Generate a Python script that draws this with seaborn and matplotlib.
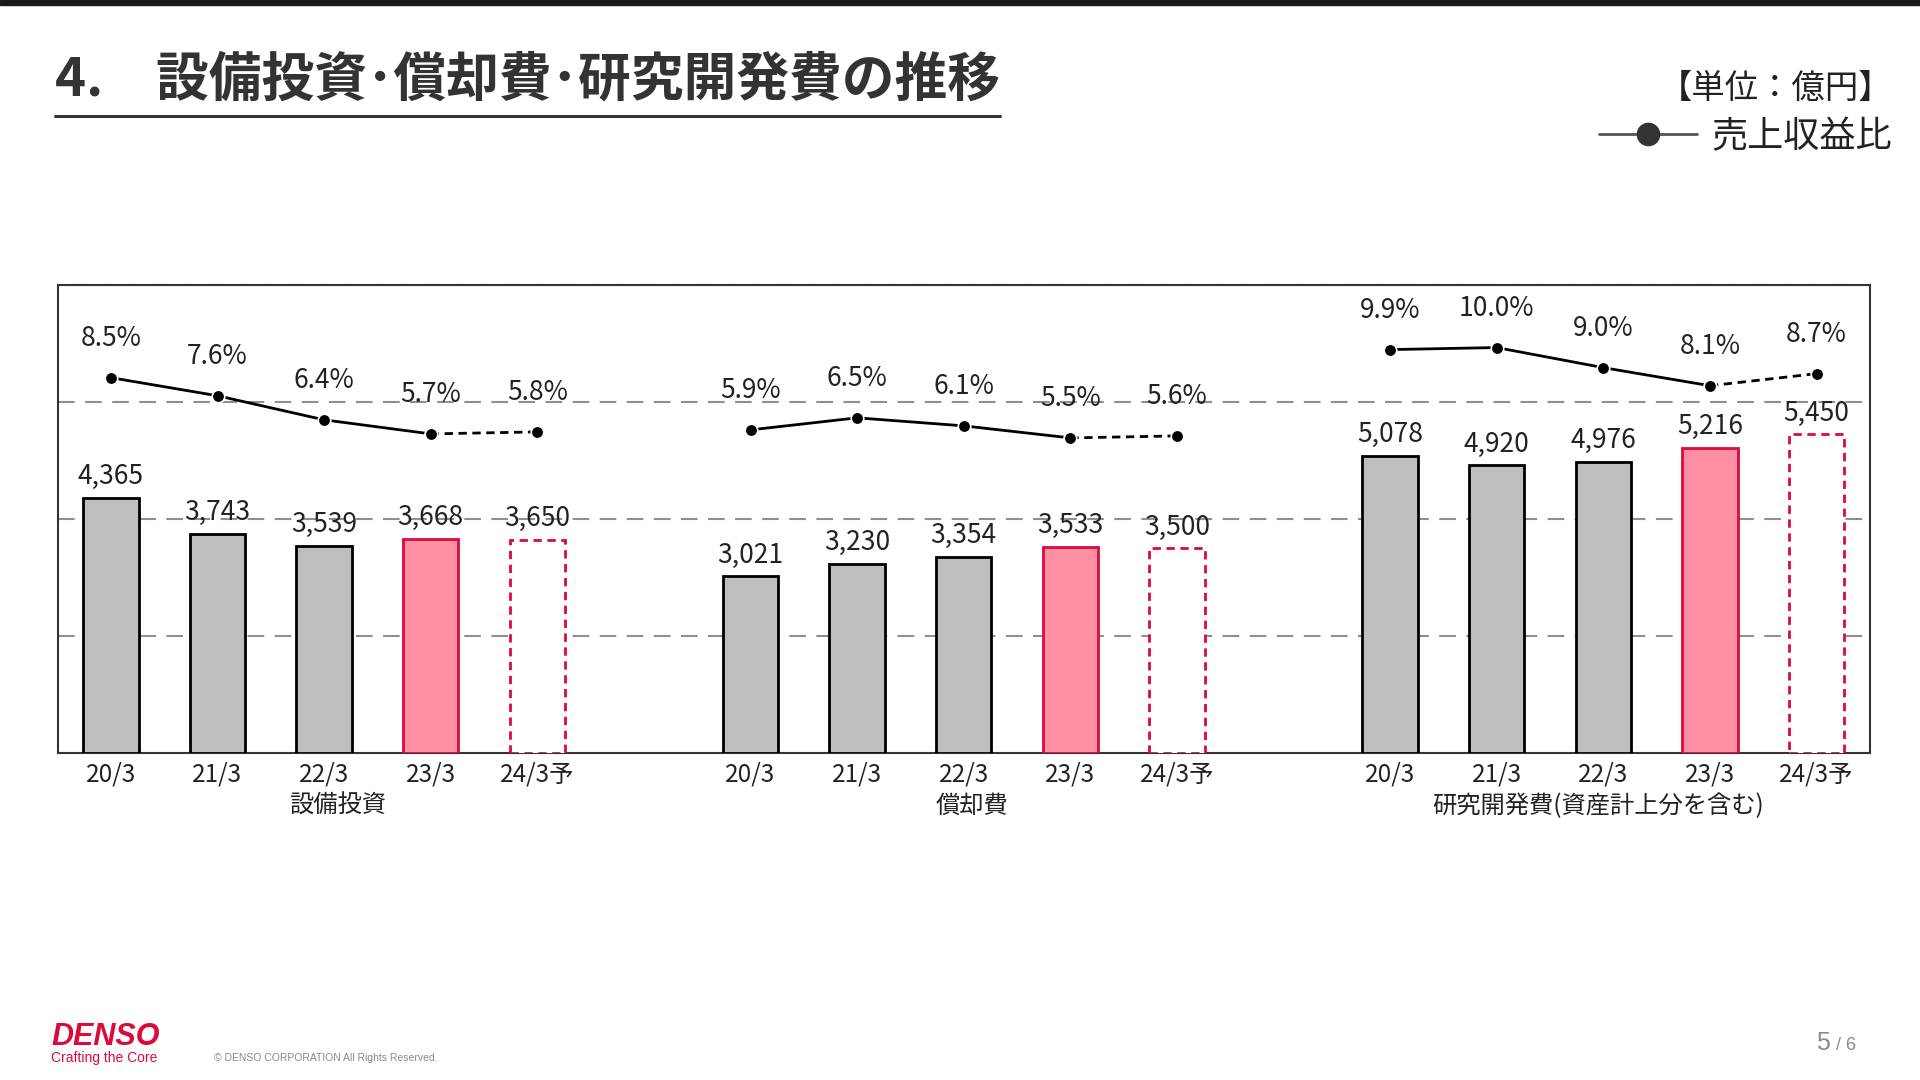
import numpy as np
import pandas as pd
import seaborn as sns
import matplotlib.pyplot as plt
from matplotlib.lines import Line2D
from matplotlib.patches import Rectangle

# Data (units: 億円, ratio: % of revenue)
groups = ['設備投資', '償却費', '研究開発費(資産計上分を含む)']
years = ['20/3', '21/3', '22/3', '23/3', '24/3予']
capex = [4365, 3743, 3539, 3668, 3650]
depreciation = [3021, 3230, 3354, 3533, 3500]
rnd = [5078, 4920, 4976, 5216, 5450]
capex_ratio = [8.5, 7.6, 6.4, 5.7, 5.8]
dep_ratio = [5.9, 6.5, 6.1, 5.5, 5.6]
rnd_ratio = [9.9, 10.0, 9.0, 8.1, 8.7]

amounts = [capex, depreciation, rnd]
ratios = [capex_ratio, dep_ratio, rnd_ratio]

rows = []
for g, (vals, rats) in enumerate(zip(amounts, ratios)):
    for i, yr in enumerate(years):
        # one empty slot between groups
        rows.append({'slot': g * 6 + i, 'group': groups[g], 'year': yr,
                     'value': vals[i], 'ratio': rats[i], 'idx': i})
df = pd.DataFrame(rows)

# Style
sns.set_theme(style='white')
plt.rcParams['font.family'] = ['Noto Sans CJK JP', 'DejaVu Sans']
txt = '#222222'
gray = '#BEBDBF'
pink = '#FF8FA3'
crimson = '#DC0A3C'

fig = plt.figure(figsize=(19.2, 10.8), dpi=100)
ax = fig.add_axes([0.0300, 0.3027, 0.9439, 0.4331])

sns.barplot(data=df, x='slot', y='value', native_scale=True, width=0.52,
            color=gray, edgecolor='black', linewidth=2, errorbar=None,
            saturation=1, ax=ax, zorder=3)

# restyle actual / forecast bars of the latest years
for p, i in zip(ax.patches, df['idx']):
    if i == 3:
        p.set_facecolor(pink)
        p.set_edgecolor(crimson)
    elif i == 4:
        p.set_facecolor('white')
        p.set_edgecolor(crimson)
        p.set_linestyle((0, (3, 2)))

for _, r in df.iterrows():
    ax.annotate(f"{r['value']:,}", (r['slot'], r['value']), xytext=(0, 10),
                textcoords='offset points', ha='center', va='baseline',
                fontsize=19, color=txt, zorder=6)

ax.set_ylim(0, 8000)
ax.set_yticks([2000, 4000, 6000, 8000])
ax.yaxis.grid(True, linestyle=(0, (8, 5)), color='#8f8f8f', linewidth=1.5)
ax.set_axisbelow(True)
ax.tick_params(axis='y', left=False, right=False, labelleft=False, length=0)
ax.set_xticks(df['slot'])
ax.set_xticklabels(df['year'], fontsize=17.5, color=txt)
ax.tick_params(axis='x', length=0, pad=6)
ax.set_xlabel('')
ax.set_ylabel('')
for s in ax.spines.values():
    s.set_color('#333333')
    s.set_linewidth(1.5)

# group captions, nudged like the original slide
nudge = [10, 6, -4]
for g, name in enumerate(groups):
    ax.annotate(name, (g * 6 + 2, 0), xycoords=('data', 'axes fraction'),
                xytext=(nudge[g], -38), textcoords='offset points',
                ha='center', va='center', fontsize=17.5, color=txt)

# Ratio line on secondary axis
ax2 = ax.twinx()
for g, name in enumerate(groups):
    sub = df[df['group'] == name]
    sns.lineplot(data=sub.iloc[:4], x='slot', y='ratio', ax=ax2, color='black',
                 linewidth=2, marker='o', markersize=9, markeredgecolor='white',
                 markeredgewidth=1.2, zorder=5)
    sns.lineplot(data=sub.iloc[3:], x='slot', y='ratio', ax=ax2, color='black',
                 linewidth=2, linestyle=(0, (3, 2)), marker='o', markersize=9,
                 markeredgecolor='white', markeredgewidth=1.2, zorder=5)
    for _, r in sub.iterrows():
        ax2.annotate(f"{r['ratio']:.1f}%", (r['slot'], r['ratio']), xytext=(0, 23),
                     textcoords='offset points', ha='center', va='baseline',
                     fontsize=19, color=txt)

ax2.set_ylim(-10.2, 13.1)
ax2.set_yticks([])
ax2.tick_params(length=0)
ax2.set_ylabel('')
ax2.set_xlabel('')
for s in ax2.spines.values():
    s.set_visible(False)
ax.set_xlim(-0.5, 16.5)

# Header
fig.add_artist(Rectangle((0, 1 - 5 / 1080), 1, 5 / 1080, transform=fig.transFigure,
                         color='#1a1a1a'))
title = fig.text(55 / 1920, 1 - 80 / 1080, '4.　設備投資･償却費･研究開発費の推移',
                 fontsize=38, weight='bold', color='#333333', va='center')
fig.canvas.draw()
bb = title.get_window_extent().transformed(fig.transFigure.inverted())
fig.add_artist(Line2D([bb.x0, bb.x1], [1 - 116 / 1080] * 2, color='#333333',
                      linewidth=2.2, transform=fig.transFigure))

fig.text(1892 / 1920, 1 - 88 / 1080, '【単位：億円】', ha='right', va='center',
         fontsize=24, color=txt)
handle = Line2D([], [], color='#555555', linewidth=2, marker='o', markersize=16,
                markerfacecolor='#333333', markeredgecolor='#333333')
fig.legend(handles=[handle], labels=['売上収益比'], loc='center right',
           bbox_to_anchor=(1892 / 1920, 1 - 137 / 1080), frameon=False,
           fontsize=26, handlelength=2.7, handletextpad=0.4, borderpad=0,
           borderaxespad=0, labelcolor=txt)

# Footer
fig.text(51 / 1920, 1 - 1037 / 1080, 'DENSO', color=crimson, fontsize=22,
         weight='bold', style='italic', family='Liberation Sans', va='center')
fig.text(51 / 1920, 1 - 1058 / 1080, 'Crafting the Core', color=crimson,
         fontsize=10, va='center', family='Liberation Sans')
fig.text(214 / 1920, 1 - 1058 / 1080, '© DENSO CORPORATION All Rights Reserved.',
         color='#8a8a8a', fontsize=7.5, va='center', family='Liberation Sans')
fig.text(1830 / 1920, 1 - 1043 / 1080, '5', color='#8a8a8a', fontsize=18,
         ha='right', va='center', family='Liberation Sans')
fig.text(1836 / 1920, 1 - 1046 / 1080, '/ 6', color='#8a8a8a', fontsize=13,
         ha='left', va='center', family='Liberation Sans')

fig.savefig('out.png', dpi=100)
